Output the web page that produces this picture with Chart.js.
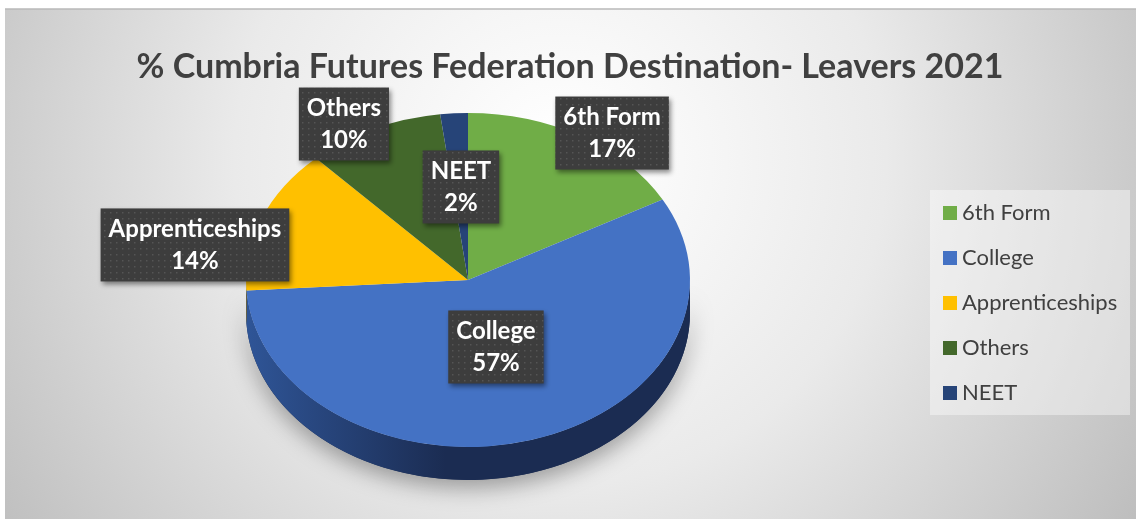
<!DOCTYPE html>
<html>
<head>
<meta charset="utf-8">
<script src="https://cdn.jsdelivr.net/npm/chart.js@4.4.0/dist/chart.umd.min.js"></script>
<style>
  html, body { margin: 0; padding: 0; background: #ffffff; }
  #wrap { width: 1140px; height: 519px; }
</style>
</head>
<body>
<div id="wrap"><canvas id="destChart" width="1140" height="519"></canvas></div>
<script>
// data
const categories = ['6th Form', 'College', 'Apprenticeships', 'Others', 'NEET'];
const percentages = [17, 57, 14, 10, 2];
const sliceColors = ['#70AD47', '#4472C4', '#FFC000', '#43682B', '#264478'];
const sideColors = ['#4a7a2e', '#2f5597', '#b38600', '#2d4a1c', '#18305a'];
const sideColorsDark = ['#355a20', '#1b2c52', '#8a6700', '#1f3412', '#101f3d'];
// where each data label sits, as a fraction of the pie radii from the centre
const labelOffsets = [[0.649, -0.88], [0.126, 0.401], [-1.23, -0.21], [-0.559, -0.934], [-0.032, -0.557]];

const FONT = 'Lato, "Open Sans", sans-serif';
const pieCenter = { x: 468, y: 280 };
const pieRx = 222, pieRy = 167, pieDepth = 33;

// dotted dark pattern for label boxes
function makePattern(ctx) {
    const c = document.createElement('canvas');
    c.width = 6; c.height = 6;
    const p = c.getContext('2d');
    p.fillStyle = '#3d3d3d';
    p.fillRect(0, 0, 6, 6);
    p.fillStyle = '#555555';
    p.fillRect(2, 2, 1.5, 1.5);
    return ctx.createPattern(c, 'repeat');
}

const pie3d = {
    id: 'pie3d',
    beforeDraw(chart) {
        const ctx = chart.ctx;
        ctx.save();
        ctx.fillStyle = '#ffffff';
        ctx.fillRect(0, 0, chart.width, chart.height);
        const g = ctx.createRadialGradient(560, 160, 20, 560, 160, 700);
        g.addColorStop(0, '#ffffff');
        g.addColorStop(0.45, '#eaeaea');
        g.addColorStop(1, '#bbbbbb');
        ctx.fillStyle = g;
        ctx.fillRect(5, 9, 1131, 510);
        ctx.strokeStyle = '#b8b8b8';
        ctx.lineWidth = 1.5;
        ctx.beginPath();
        ctx.moveTo(5, 9); ctx.lineTo(1136, 9);
        ctx.stroke();
        ctx.restore();
    },
    beforeDatasetsDraw(chart) {
        const ctx = chart.ctx;
        const meta = chart.getDatasetMeta(0);
        const cx = pieCenter.x, cy = pieCenter.y;
        // shadow under the pie
        ctx.save();
        ctx.shadowColor = 'rgba(0,0,0,0.35)';
        ctx.shadowBlur = 22;
        ctx.shadowOffsetY = 8;
        ctx.fillStyle = '#1b2c52';
        ctx.beginPath();
        ctx.ellipse(cx, cy + pieDepth, pieRx, pieRy, 0, 0, Math.PI);
        ctx.ellipse(cx, cy, pieRx, pieRy, 0, Math.PI, 0, true);
        ctx.closePath();
        ctx.fill();
        ctx.restore();
        // side walls of slices on the front half
        meta.data.forEach((arc, i) => {
            let a0 = arc.startAngle, a1 = arc.endAngle;
            while (a0 < -Math.PI) { a0 += 2 * Math.PI; a1 += 2 * Math.PI; }
            const s = Math.max(a0, 0), e = Math.min(a1, Math.PI);
            if (e <= s) return;
            const g = ctx.createLinearGradient(cx - pieRx, 0, cx + pieRx, 0);
            g.addColorStop(0, sideColors[i]);
            g.addColorStop(0.45, sideColorsDark[i]);
            g.addColorStop(1, sideColorsDark[i]);
            ctx.save();
            ctx.fillStyle = g;
            ctx.beginPath();
            ctx.ellipse(cx, cy, pieRx, pieRy, 0, s, e);
            ctx.ellipse(cx, cy + pieDepth, pieRx, pieRy, 0, e, s, true);
            ctx.closePath();
            ctx.fill();
            ctx.restore();
        });
        // squash the library's round pie into the tilted top face
        const arc = meta.data[0];
        const k = pieRx / arc.outerRadius;
        const ky = pieRy / arc.outerRadius;
        ctx.save();
        ctx.translate(cx, cy);
        ctx.scale(k, ky);
        ctx.translate(-arc.x, -arc.y);
    },
    afterDatasetsDraw(chart) {
        const ctx = chart.ctx;
        ctx.restore();
        const pattern = makePattern(ctx);
        const data = chart.data.datasets[0].data;
        ctx.save();
        ctx.font = 'bold 24px ' + FONT;
        ctx.textAlign = 'center';
        ctx.textBaseline = 'middle';
        chart.data.labels.forEach((name, i) => {
            const lx = pieCenter.x + labelOffsets[i][0] * pieRx;
            const ly = pieCenter.y + labelOffsets[i][1] * pieRy;
            const line2 = data[i] + '%';
            const w = Math.max(ctx.measureText(name).width, ctx.measureText(line2).width) + 16;
            const h = 73;
            ctx.save();
            ctx.shadowColor = 'rgba(0,0,0,0.45)';
            ctx.shadowBlur = 5;
            ctx.shadowOffsetX = 2;
            ctx.shadowOffsetY = 3;
            ctx.fillStyle = pattern;
            ctx.fillRect(lx - w / 2, ly - h / 2, w, h);
            ctx.restore();
            ctx.fillStyle = '#ffffff';
            ctx.fillText(name, lx, ly - 16);
            ctx.fillText(line2, lx, ly + 16);
        });
        ctx.restore();
    },
    afterDraw(chart) {
        // legend panel on the right
        const ctx = chart.ctx;
        ctx.save();
        ctx.fillStyle = 'rgba(255,255,255,0.4)';
        ctx.fillRect(930, 190, 200, 225);
        ctx.font = '22px ' + FONT;
        ctx.textBaseline = 'middle';
        ctx.textAlign = 'left';
        chart.data.labels.forEach((name, i) => {
            const y = 213 + i * 45;
            ctx.fillStyle = sliceColors[i];
            ctx.fillRect(943, y - 7, 14, 14);
            ctx.fillStyle = '#404040';
            ctx.fillText(name, 962, y);
        });
        ctx.restore();
    }
};

const ctxDest = document.getElementById('destChart').getContext('2d');
new Chart(ctxDest, {
    type: 'pie',
    data: {
        labels: categories,
        datasets: [{
            data: percentages,
            backgroundColor: sliceColors,
            borderWidth: 0
        }]
    },
    options: {
        responsive: false,
        animation: false,
        events: [],
        plugins: {
            legend: { display: false },
            tooltip: { enabled: false },
            title: {
                display: true,
                text: '% Cumbria Futures Federation Destination- Leavers 2021',
                color: '#404040',
                font: { family: FONT, size: 34, weight: 'bold' },
                padding: { top: 47, bottom: 10 }
            }
        }
    },
    plugins: [pie3d]
});
</script>
</body>
</html>
